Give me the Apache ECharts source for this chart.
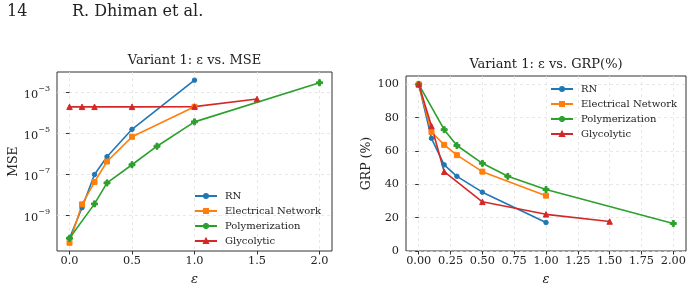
<!DOCTYPE html>
<html>
<head>
<meta charset="utf-8">
<script src="https://cdn.jsdelivr.net/npm/echarts@6/dist/echarts.min.js"></script>
<style>
html, body { margin: 0; padding: 0; background: #fff; }
#chart { width: 692px; height: 291px; }
</style>
</head>
<body>
<div id="chart"></div>
<script>
// series names
const names = ["RN", "Electrical Network", "Polymerization", "Glycolytic"];

// epsilon values per series
const epsRN = [0, 0.1, 0.2, 0.3, 0.5, 1.0];
const epsEN = [0, 0.1, 0.2, 0.3, 0.5, 1.0];
const epsPoly = [0, 0.2, 0.3, 0.5, 0.7, 1.0, 2.0];
const epsGly = [0, 0.1, 0.2, 0.5, 1.0, 1.5];

// MSE (left panel)
const mseRN = [7.8e-11, 2.4e-9, 1.0e-7, 7.4e-7, 1.6e-5, 4.0e-3];
const mseEN = [4.7e-11, 3.5e-9, 4.3e-8, 4.3e-7, 6.9e-6, 2.0e-4];
const msePoly = [7.8e-11, 3.7e-9, 3.9e-8, 3.0e-7, 2.4e-6, 3.7e-5, 3.0e-3];
const mseGly = [2.0e-4, 2.0e-4, 2.0e-4, 2.0e-4, 2.05e-4, 4.8e-4];

// GRP % (right panel)
const grpRN = [100, 67.6, 51.7, 44.8, 35.3, 17.1];
const grpEN = [100, 71.4, 63.7, 57.5, 47.6, 33.2];
const grpPoly = [100, 72.8, 63.3, 52.6, 44.8, 36.9, 16.5];
const grpGly = [100, 75.0, 47.6, 29.5, 22.0, 17.7];

// ticks
const xTicksL = [0, 0.5, 1.0, 1.5, 2.0];
const xTicksR = [0, 0.25, 0.5, 0.75, 1.0, 1.25, 1.5, 1.75, 2.0];
const yTicksL = [1e-9, 1e-7, 1e-5, 1e-3];
const yTicksR = [0, 20, 40, 60, 80, 100];

const colors = ["#1f77b4", "#ff7f0e", "#2ca02c", "#d62728"];
const plusPath = "path://M1,0H2V1H3V2H2V3H1V2H0V1H1Z";
const symbols = ["circle", "rect", plusPath, "triangle"];
const symbolSizes = [4.5, 5, 6, 5.5];
const font = "DejaVu Serif";

// 10^n tick labels with a raised exponent
const logLabel = v => {
  const e = Math.round(Math.log10(v));
  return "{b|10}{s|" + String(e).replace("-", "\u2212") + "}";
};

const zip = (xs, ys) => xs.map((x, i) => [x, ys[i]]);
const epsAll = [epsRN, epsEN, epsPoly, epsGly];
const mseAll = [mseRN, mseEN, msePoly, mseGly];
const grpAll = [grpRN, grpEN, grpPoly, grpGly];

const makeSeries = (vals, idx) => names.map((n, i) => ({
  name: n,
  type: "line",
  xAxisIndex: idx,
  yAxisIndex: idx,
  data: zip(epsAll[i], vals[i]),
  symbol: symbols[i],
  symbolSize: symbolSizes[i],
  showAllSymbol: true,
  color: colors[i],
  lineStyle: { width: 1.6, color: colors[i] },
  itemStyle: { color: colors[i], borderColor: colors[i], borderWidth: 1 },
  emphasis: { disabled: true },
  animation: false
}));

const gridLine = { show: true, lineStyle: { color: "#e2e2e2", type: [3, 3], width: 0.8 } };
const tickStyle = (vals) => ({ customValues: vals, length: 3.5, lineStyle: { color: "#333" } });
const labelStyle = { fontFamily: font, fontSize: 11.3, color: "#222" };
const legendText = { fontFamily: font, fontSize: 10, color: "#222", padding: [0, 0, 0, 3] };
const nameStyle = { fontFamily: font, fontSize: 12.5, color: "#222" };

const chart = echarts.init(document.getElementById("chart"));
const option = {
  animation: false,
  title: [
    { text: "14", left: 7, top: 4, padding: 0, textStyle: { fontFamily: font, fontSize: 16, fontWeight: "normal", color: "#222" } },
    { text: "R. Dhiman et al.", left: 72, top: 4, padding: 0, textStyle: { fontFamily: font, fontSize: 16, fontWeight: "normal", color: "#222" } },
    { text: "Variant 1: \u03B5 vs. MSE", left: 194.5, top: 54, padding: 0, textAlign: "center", textStyle: { fontFamily: font, fontSize: 13, fontWeight: "normal", color: "#222" } },
    { text: "Variant 1: \u03B5 vs. GRP(%)", left: 546, top: 58, padding: 0, textAlign: "center", textStyle: { fontFamily: font, fontSize: 13, fontWeight: "normal", color: "#222" } }
  ],
  grid: [
    { left: 57, top: 72, width: 275, height: 184, show: true, borderColor: "#333", borderWidth: 1 },
    { left: 406, top: 76, width: 280, height: 180, show: true, borderColor: "#333", borderWidth: 1 }
  ],
  legend: [
    {
      data: names, orient: "vertical", left: 194, top: 191, padding: 0,
      itemWidth: 22, itemHeight: 5, itemGap: 5, textStyle: legendText
    },
    {
      data: names, orient: "vertical", left: 550, top: 84, padding: 0,
      itemWidth: 22, itemHeight: 5, itemGap: 5, textStyle: legendText
    }
  ],
  xAxis: [
    {
      type: "value", gridIndex: 0, min: -0.1, max: 2.1,
      axisLine: { show: false }, axisTick: tickStyle(xTicksL),
      axisLabel: Object.assign({ customValues: xTicksL, margin: 5, formatter: v => v.toFixed(1) }, labelStyle),
      splitLine: gridLine,
      name: "\u03B5", nameLocation: "middle", nameGap: 22,
      nameTextStyle: Object.assign({}, nameStyle, { fontStyle: "italic", fontSize: 13 })
    },
    {
      type: "value", gridIndex: 1, min: -0.1, max: 2.1,
      axisLine: { show: false }, axisTick: tickStyle(xTicksR),
      axisLabel: Object.assign({ customValues: xTicksR, margin: 5, formatter: v => v.toFixed(2) }, labelStyle),
      splitLine: gridLine,
      name: "\u03B5", nameLocation: "middle", nameGap: 22,
      nameTextStyle: Object.assign({}, nameStyle, { fontStyle: "italic", fontSize: 13 })
    }
  ],
  yAxis: [
    {
      type: "log", gridIndex: 0, logBase: 10, min: Math.pow(10, -10.73), max: 1e-2,
      axisLine: { show: false }, axisTick: tickStyle(yTicksL),
      axisLabel: Object.assign({
        customValues: yTicksL, margin: 7, formatter: logLabel,
        rich: {
          b: { fontFamily: font, fontSize: 11.3, color: "#222", lineHeight: 16, verticalAlign: "bottom" },
          s: { fontFamily: font, fontSize: 8, color: "#222", lineHeight: 10, verticalAlign: "top" }
        }
      }, labelStyle),
      splitLine: gridLine,
      name: "MSE", nameLocation: "middle", nameGap: 34, nameTextStyle: nameStyle
    },
    {
      type: "value", gridIndex: 1, min: 0, max: 105,
      axisLine: { show: false }, axisTick: tickStyle(yTicksR),
      axisLabel: Object.assign({ customValues: yTicksR, margin: 7 }, labelStyle),
      splitLine: gridLine,
      name: "GRP (%)", nameLocation: "middle", nameGap: 29, nameTextStyle: nameStyle
    }
  ],
  series: makeSeries(mseAll, 0).concat(makeSeries(grpAll, 1))
};
chart.setOption(option);
</script>
</body>
</html>
